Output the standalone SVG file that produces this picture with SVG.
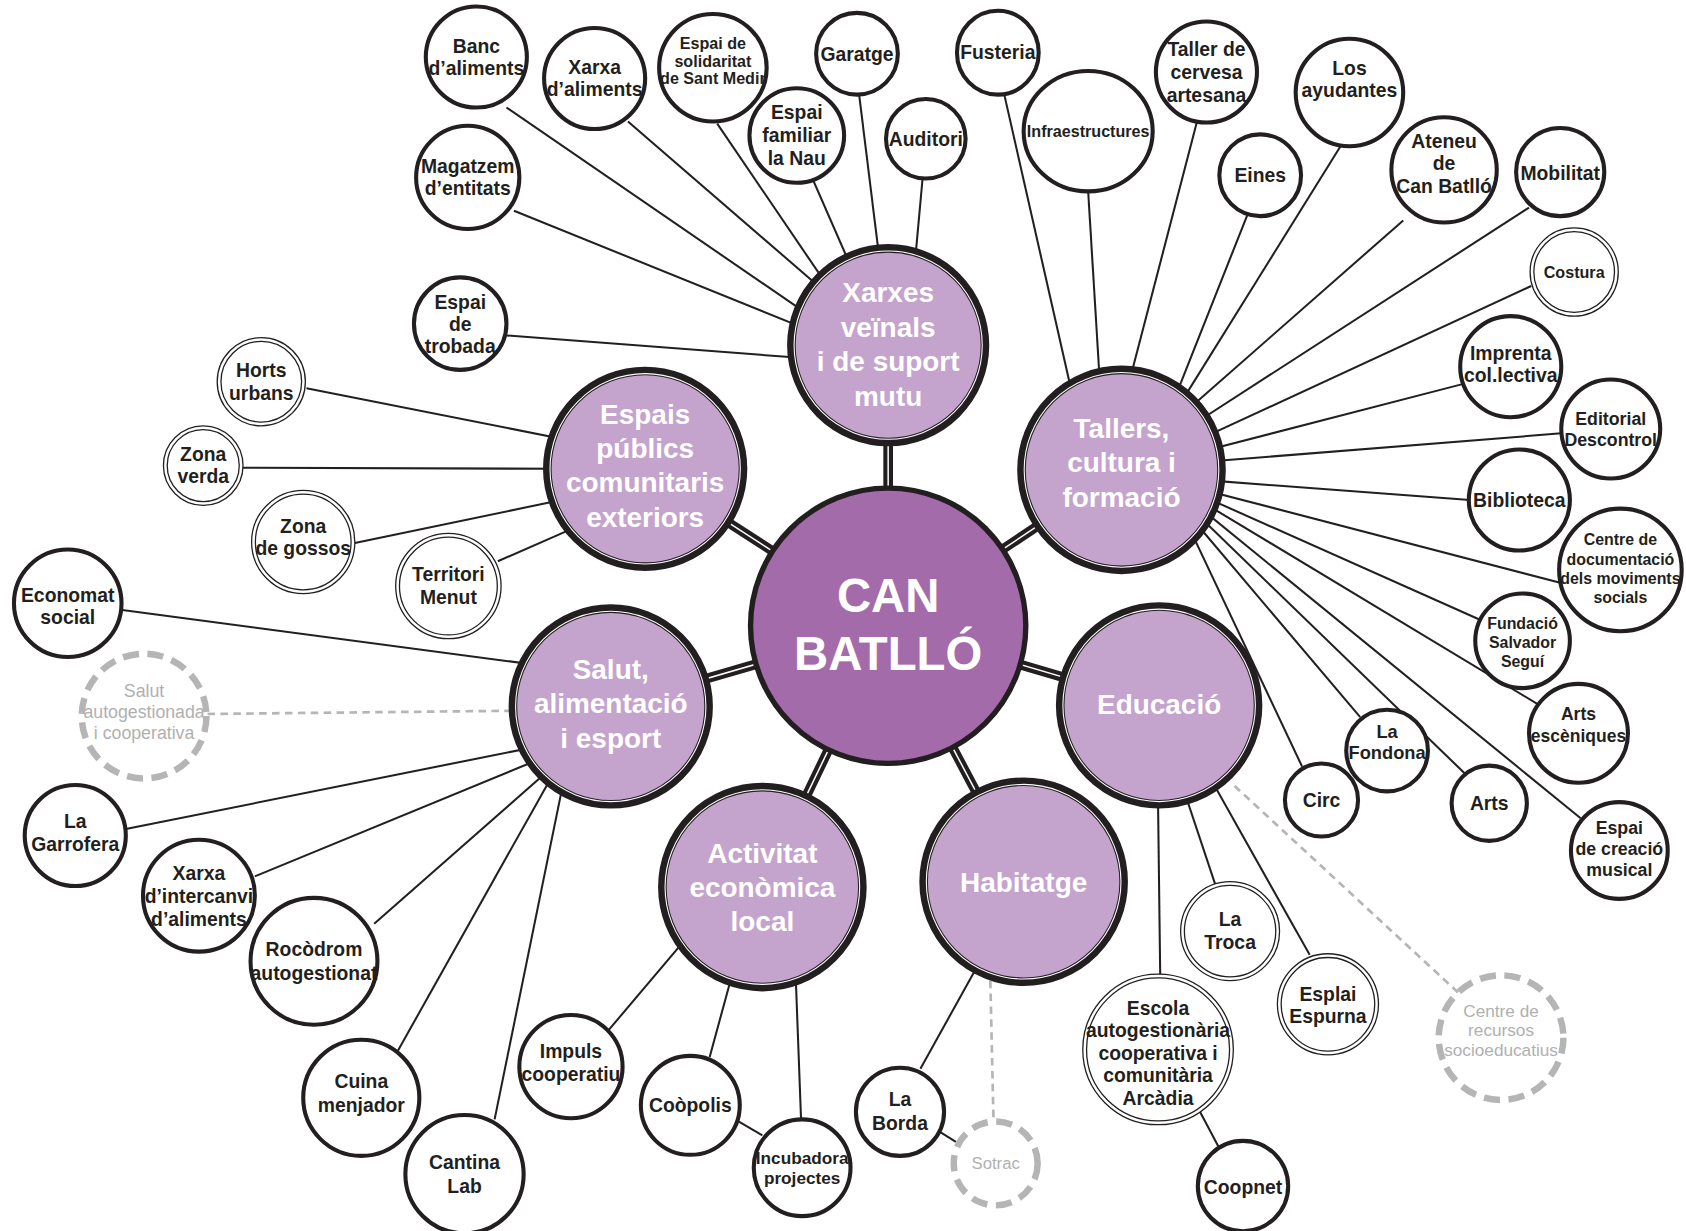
<svg xmlns="http://www.w3.org/2000/svg" width="1686" height="1231" viewBox="0 0 1686 1231">
<style>
.ln{stroke:#231f20;stroke-width:1.9;fill:none;stroke-linecap:butt}
.dln{stroke:#b5b5b5;stroke-width:2.5;stroke-dasharray:7 5;fill:none}
.hub{stroke:#231f20;stroke-width:9}
.hubw{stroke:#fff;stroke-width:1.4}
.leaf{fill:#fff;stroke:#231f20;stroke-width:3.8}
.dbl{fill:#fff;stroke:#231f20;stroke-width:1.2}
.dash{fill:#fff;stroke:#b5b5b5;stroke-width:6;stroke-dasharray:15 8}
.cat{fill:#c4a4cd;stroke:#231f20;stroke-width:8}
.catin{fill:none;stroke:#fff;stroke-width:1}
.core{fill:#a46bab;stroke:#231f20;stroke-width:5}
text{font-family:"Liberation Sans",Arial,Helvetica,sans-serif;font-weight:bold;text-anchor:middle}
.t{font-size:18px;fill:#231f20}
.c{font-size:26px;fill:#fff}
.g{font-weight:normal;fill:#b0b0b0}
.core-t{font-size:44px;fill:#fff}
</style>
<rect width="1686" height="1231" fill="#fff"/>
<g transform="scale(1.07526)">
<g id="connectors">
<!-- Xarxes veïnals -->
<line class="ln" x1="471" y1="100" x2="748" y2="290"/>
<line class="ln" x1="478" y1="196" x2="745" y2="304"/>
<line class="ln" x1="584" y1="113" x2="768" y2="272"/>
<line class="ln" x1="667" y1="115" x2="769" y2="265"/>
<line class="ln" x1="756" y1="167" x2="791" y2="247"/>
<line class="ln" x1="799" y1="88" x2="818" y2="242"/>
<line class="ln" x1="858" y1="166" x2="851" y2="243"/>
<line class="ln" x1="471" y1="312" x2="747" y2="333"/>
<!-- Espais públics -->
<line class="ln" x1="285" y1="361" x2="522" y2="408"/>
<line class="ln" x1="226" y1="435" x2="520" y2="436"/>
<line class="ln" x1="330" y1="505" x2="522" y2="465"/>
<line class="ln" x1="463" y1="522" x2="527" y2="494"/>
<!-- Salut -->
<line class="ln" x1="112" y1="567" x2="496" y2="618"/>
<line class="dln" x1="193" y1="664" x2="478" y2="661"/>
<line class="ln" x1="117" y1="771" x2="491" y2="696"/>
<line class="ln" x1="237" y1="815" x2="497" y2="708"/>
<line class="ln" x1="348" y1="859" x2="504" y2="722"/>
<line class="ln" x1="369" y1="979" x2="511" y2="726"/>
<line class="ln" x1="460" y1="1041" x2="523" y2="732"/>
<!-- Activitat -->
<line class="ln" x1="566" y1="958" x2="638" y2="873"/>
<line class="ln" x1="660" y1="983" x2="681" y2="906"/>
<line class="ln" x1="745" y1="1041" x2="740" y2="908"/>
<line class="ln" x1="682" y1="1040" x2="709" y2="1056"/>
<!-- Habitatge -->
<line class="ln" x1="856" y1="994" x2="912" y2="893"/>
<line class="dln" x1="921" y1="912" x2="924" y2="1043"/>
<line class="ln" x1="870" y1="1050" x2="889" y2="1062"/>
<!-- Educació -->
<line class="ln" x1="1079" y1="906" x2="1077" y2="748"/>
<line class="ln" x1="1115" y1="1032" x2="1133" y2="1066"/>
<line class="ln" x1="1130" y1="822" x2="1102" y2="738"/>
<line class="ln" x1="1218" y1="888" x2="1128" y2="728"/>
<line class="dln" x1="1356" y1="923" x2="1145" y2="728"/>
<!-- Tallers -->
<line class="ln" x1="934" y1="88" x2="997" y2="366"/>
<line class="ln" x1="1012" y1="178" x2="1023" y2="358"/>
<line class="ln" x1="1113" y1="114" x2="1050" y2="356"/>
<line class="ln" x1="1160" y1="200" x2="1093" y2="369"/>
<line class="ln" x1="1248" y1="134" x2="1101" y2="370"/>
<line class="ln" x1="1305" y1="205" x2="1107" y2="379"/>
<line class="ln" x1="1422" y1="193" x2="1114" y2="392"/>
<line class="ln" x1="1424" y1="266" x2="1119" y2="407"/>
<line class="ln" x1="1361" y1="357" x2="1125" y2="418"/>
<line class="ln" x1="1452" y1="403" x2="1127" y2="429"/>
<line class="ln" x1="1367" y1="465" x2="1127" y2="447"/>
<line class="ln" x1="1451" y1="542" x2="1125" y2="457"/>
<line class="ln" x1="1380" y1="578" x2="1122" y2="463"/>
<line class="ln" x1="1432" y1="656" x2="1120" y2="468"/>
<line class="ln" x1="1470" y1="761" x2="1117" y2="473"/>
<line class="ln" x1="1363" y1="720" x2="1114" y2="479"/>
<line class="ln" x1="1265" y1="667" x2="1111" y2="485"/>
<line class="ln" x1="1211" y1="713" x2="1107" y2="493"/>
<!-- hub connectors -->
<g class="hub">
<line x1="826" y1="582" x2="826" y2="321"/>
<line x1="826" y1="582" x2="600" y2="436"/>
<line x1="826" y1="582" x2="1043" y2="437"/>
<line x1="826" y1="582" x2="568" y2="657"/>
<line x1="826" y1="582" x2="1078" y2="656"/>
<line x1="826" y1="582" x2="709" y2="825"/>
<line x1="826" y1="582" x2="952" y2="820"/>
</g>
<g class="hubw">
<line x1="826" y1="582" x2="826" y2="321"/>
<line x1="826" y1="582" x2="600" y2="436"/>
<line x1="826" y1="582" x2="1043" y2="437"/>
<line x1="826" y1="582" x2="568" y2="657"/>
<line x1="826" y1="582" x2="1078" y2="656"/>
<line x1="826" y1="582" x2="709" y2="825"/>
<line x1="826" y1="582" x2="952" y2="820"/>
</g>
</g>

<!-- categories -->
<g id="cat-xarxes"><circle class="cat" cx="826" cy="321" r="90"/><circle class="catin" cx="826" cy="321" r="87.5"/>
<text class="c" x="826" y="281.3">Xarxes<tspan x="826" dy="32">veïnals</tspan><tspan x="826" dy="32">i de suport</tspan><tspan x="826" dy="32">mutu</tspan></text></g>
<g id="cat-espais"><circle class="cat" cx="600" cy="436" r="91"/><circle class="catin" cx="600" cy="436" r="88.5"/>
<text class="c" x="600" y="394.3">Espais<tspan x="600" dy="31.8">públics</tspan><tspan x="600" dy="31.8">comunitaris</tspan><tspan x="600" dy="31.8">exteriors</tspan></text></g>
<g id="cat-tallers"><circle class="cat" cx="1043" cy="437" r="93"/><circle class="catin" cx="1043" cy="437" r="90.5"/>
<text class="c" x="1043" y="407.3">Tallers,<tspan x="1043" dy="32">cultura i</tspan><tspan x="1043" dy="32">formació</tspan></text></g>
<g id="cat-salut"><circle class="cat" cx="568" cy="657" r="91"/><circle class="catin" cx="568" cy="657" r="88.5"/>
<text class="c" x="568" y="631.3">Salut,<tspan x="568" dy="32">alimentació</tspan><tspan x="568" dy="32">i esport</tspan></text></g>
<g id="cat-educacio"><circle class="cat" cx="1078" cy="656" r="92"/><circle class="catin" cx="1078" cy="656" r="89.5"/>
<text class="c" x="1078" y="664.3">Educació</text></g>
<g id="cat-activitat"><circle class="cat" cx="709" cy="825" r="93"/><circle class="catin" cx="709" cy="825" r="90.5"/>
<text class="c" x="709" y="802.3">Activitat<tspan x="709" dy="32">econòmica</tspan><tspan x="709" dy="32">local</tspan></text></g>
<g id="cat-habitatge"><circle class="cat" cx="952" cy="820" r="93"/><circle class="catin" cx="952" cy="820" r="90.5"/>
<text class="c" x="952" y="829.3">Habitatge</text></g>
<g id="core"><circle class="core" cx="826" cy="582" r="128"/>
<text class="core-t" x="826" y="569">CAN<tspan x="826" dy="54">BATLLÓ</tspan></text></g>

<!-- leaves: Xarxes -->
<g id="n-banc"><circle class="leaf" cx="443" cy="53" r="47"/><text class="t" x="443" y="49.5">Banc<tspan x="443" dy="20">d’aliments</tspan></text></g>
<g id="n-xarxa-aliments"><circle class="leaf" cx="553" cy="73" r="47"/><text class="t" x="553" y="68.5">Xarxa<tspan x="553" dy="21">d’aliments</tspan></text></g>
<g id="n-solidaritat"><circle class="leaf" cx="663" cy="63" r="50"/><text class="t" style="font-size:15px" x="663" y="45.4">Espai de<tspan x="663" dy="16.5">solidaritat</tspan><tspan x="663" dy="16.5">de Sant Medir</tspan></text></g>
<g id="n-garatge"><circle class="leaf" cx="797" cy="50" r="38"/><text class="t" x="797" y="56.5">Garatge</text></g>
<g id="n-familiar"><circle class="leaf" cx="741" cy="126" r="44"/><text class="t" x="741" y="110.5">Espai<tspan x="741" dy="21.5">familiar</tspan><tspan x="741" dy="21.5">la Nau</tspan></text></g>
<g id="n-auditori"><circle class="leaf" cx="861" cy="129" r="37"/><text class="t" x="861" y="135.5">Auditori</text></g>
<g id="n-magatzem"><circle class="leaf" cx="435" cy="165" r="48"/><text class="t" x="435" y="160.5">Magatzem<tspan x="435" dy="21">d’entitats</tspan></text></g>
<g id="n-trobada"><circle class="leaf" cx="428" cy="301" r="43"/><text class="t" x="428" y="287.5">Espai<tspan x="428" dy="20.5">de</tspan><tspan x="428" dy="20.5">trobada</tspan></text></g>

<!-- leaves: Espais -->
<g id="n-horts"><circle class="dbl" cx="243" cy="355" r="41"/><circle class="dbl" cx="243" cy="355" r="37.5"/><text class="t" x="243" y="350.5">Horts<tspan x="243" dy="21.5">urbans</tspan></text></g>
<g id="n-zona-verda"><circle class="dbl" cx="189" cy="433" r="37"/><circle class="dbl" cx="189" cy="433" r="33.5"/><text class="t" x="189" y="428.5">Zona<tspan x="189" dy="21">verda</tspan></text></g>
<g id="n-gossos"><circle class="dbl" cx="282" cy="504" r="48"/><circle class="dbl" cx="282" cy="504" r="44.5"/><text class="t" x="282" y="495.5">Zona<tspan x="282" dy="21">de gossos</tspan></text></g>
<g id="n-territori"><circle class="dbl" cx="417" cy="545" r="49"/><circle class="dbl" cx="417" cy="545" r="45.5"/><text class="t" x="417" y="540.5">Territori<tspan x="417" dy="21.5">Menut</tspan></text></g>

<!-- leaves: Salut -->
<g id="n-economat"><circle class="leaf" cx="63" cy="561" r="50"/><text class="t" x="63" y="559.5">Economat<tspan x="63" dy="21">social</tspan></text></g>
<g id="n-salut-autog"><circle class="dash" cx="134" cy="666" r="58"/><text class="t g" style="font-size:16.5px" x="134" y="648">Salut<tspan x="134" dy="19.5">autogestionada</tspan><tspan x="134" dy="19.5">i cooperativa</tspan></text></g>
<g id="n-garrofera"><circle class="leaf" cx="70" cy="777" r="47"/><text class="t" x="70" y="770.5">La<tspan x="70" dy="21">Garrofera</tspan></text></g>
<g id="n-intercanvi"><circle class="leaf" cx="185" cy="833" r="52"/><text class="t" x="185" y="818.5">Xarxa<tspan x="185" dy="21.5">d’intercanvi</tspan><tspan x="185" dy="21.5">d’aliments</tspan></text></g>
<g id="n-rocodrom"><circle class="leaf" cx="292" cy="894" r="59"/><text class="t" x="292" y="889.5">Rocòdrom<tspan x="292" dy="22">autogestionat</tspan></text></g>
<g id="n-cuina"><circle class="leaf" cx="336" cy="1021" r="54"/><text class="t" x="336" y="1011.5">Cuina<tspan x="336" dy="23">menjador</tspan></text></g>
<g id="n-cantina"><circle class="leaf" cx="432" cy="1092" r="55"/><text class="t" x="432" y="1087.5">Cantina<tspan x="432" dy="22">Lab</tspan></text></g>

<!-- leaves: Activitat -->
<g id="n-impuls"><circle class="leaf" cx="531" cy="992" r="48"/><text class="t" x="531" y="984">Impuls<tspan x="531" dy="21">cooperatiu</tspan></text></g>
<g id="n-coopolis"><circle class="leaf" cx="642" cy="1028" r="46"/><text class="t" x="642" y="1034.5">Coòpolis</text></g>
<g id="n-incubadora"><circle class="leaf" cx="746" cy="1086" r="45"/><text class="t" style="font-size:16px" x="746" y="1082.8">Incubadora<tspan x="746" dy="18.5">projectes</tspan></text></g>

<!-- leaves: Habitatge -->
<g id="n-borda"><circle class="leaf" cx="837" cy="1034" r="41"/><text class="t" x="837" y="1028.5">La<tspan x="837" dy="22">Borda</tspan></text></g>
<g id="n-sotrac"><circle class="dash" cx="926" cy="1082" r="39"/><text class="t g" style="font-size:15.5px" x="926" y="1087.5">Sotrac</text></g>

<!-- leaves: Educació -->
<g id="n-escola"><circle class="dbl" cx="1077" cy="976" r="70"/><circle class="dbl" cx="1077" cy="976" r="66.5"/><text class="t" x="1077" y="943.5">Escola<tspan x="1077" dy="21">autogestionària</tspan><tspan x="1077" dy="21">cooperativa i</tspan><tspan x="1077" dy="21">comunitària</tspan><tspan x="1077" dy="21">Arcàdia</tspan></text></g>
<g id="n-coopnet"><circle class="leaf" cx="1156" cy="1103" r="42"/><text class="t" x="1156" y="1110.5">Coopnet</text></g>
<g id="n-troca"><circle class="dbl" cx="1144" cy="866" r="46"/><circle class="dbl" cx="1144" cy="866" r="42.5"/><text class="t" x="1144" y="861.5">La<tspan x="1144" dy="21">Troca</tspan></text></g>
<g id="n-esplai"><circle class="dbl" cx="1235" cy="934" r="47"/><circle class="dbl" cx="1235" cy="934" r="43.5"/><text class="t" x="1235" y="930.5">Esplai<tspan x="1235" dy="21">Espurna</tspan></text></g>
<g id="n-recursos"><circle class="dash" cx="1396" cy="965" r="58"/><text class="t g" style="font-size:16px" x="1396" y="945.8">Centre de<tspan x="1396" dy="18">recursos</tspan><tspan x="1396" dy="18">socioeducatius</tspan></text></g>

<!-- leaves: Tallers -->
<g id="n-fusteria"><ellipse class="leaf" cx="928" cy="49" rx="38" ry="39"/><text class="t" x="928" y="54.5">Fusteria</text></g>
<g id="n-infra"><ellipse class="leaf" cx="1012" cy="122" rx="60" ry="56"/><text class="t" style="font-size:15px" x="1012" y="127.4">Infraestructures</text></g>
<g id="n-cervesa"><circle class="leaf" cx="1122" cy="67" r="47"/><text class="t" x="1122" y="52.5">Taller de<tspan x="1122" dy="21">cervesa</tspan><tspan x="1122" dy="21">artesana</tspan></text></g>
<g id="n-eines"><circle class="leaf" cx="1172" cy="163" r="38"/><text class="t" x="1172" y="169.5">Eines</text></g>
<g id="n-ayudantes"><circle class="leaf" cx="1255" cy="86" r="50"/><text class="t" x="1255" y="69.5">Los<tspan x="1255" dy="21">ayudantes</tspan></text></g>
<g id="n-ateneu"><circle class="leaf" cx="1343" cy="158" r="49"/><text class="t" x="1343" y="137.5">Ateneu<tspan x="1343" dy="21">de</tspan><tspan x="1343" dy="21">Can Batlló</tspan></text></g>
<g id="n-mobilitat"><circle class="leaf" cx="1451" cy="160" r="41"/><text class="t" x="1451" y="167">Mobilitat</text></g>
<g id="n-costura"><circle class="dbl" cx="1464" cy="253" r="41"/><circle class="dbl" cx="1464" cy="253" r="37.5"/><text class="t" style="font-size:15px" x="1464" y="258.4">Costura</text></g>
<g id="n-imprenta"><circle class="leaf" cx="1405" cy="341" r="47"/><text class="t" x="1405" y="334.5">Imprenta<tspan x="1405" dy="21">col.lectiva</tspan></text></g>
<g id="n-editorial"><circle class="leaf" cx="1498" cy="399" r="46"/><text class="t" style="font-size:16.5px" x="1498" y="395">Editorial<tspan x="1498" dy="20">Descontrol</tspan></text></g>
<g id="n-biblioteca"><circle class="leaf" cx="1413" cy="465" r="47"/><text class="t" x="1413" y="471.5">Biblioteca</text></g>
<g id="n-centre-doc"><circle class="leaf" cx="1507" cy="530" r="57"/><text class="t" style="font-size:14.8px" x="1507" y="507.3">Centre de<tspan x="1507" dy="17.7">documentació</tspan><tspan x="1507" dy="17.7">dels moviments</tspan><tspan x="1507" dy="17.7">socials</tspan></text></g>
<g id="n-fundacio"><circle class="leaf" cx="1416" cy="596" r="44"/><text class="t" style="font-size:14.8px" x="1416" y="585.3">Fundació<tspan x="1416" dy="17.5">Salvador</tspan><tspan x="1416" dy="17.5">Seguí</tspan></text></g>
<g id="n-arts-esceniques"><circle class="leaf" cx="1468" cy="682" r="46"/><text class="t" style="font-size:16.3px" x="1468" y="669.9">Arts<tspan x="1468" dy="20">escèniques</tspan></text></g>
<g id="n-creacio-musical"><circle class="leaf" cx="1506" cy="791" r="45"/><text class="t" style="font-size:16.5px" x="1506" y="776">Espai<tspan x="1506" dy="19.5">de creació</tspan><tspan x="1506" dy="19.5">musical</tspan></text></g>
<g id="n-arts"><circle class="leaf" cx="1385" cy="747" r="35"/><text class="t" x="1385" y="753.5">Arts</text></g>
<g id="n-fondona"><circle class="leaf" cx="1290" cy="698" r="38"/><text class="t" style="font-size:17px" x="1290" y="686">La<tspan x="1290" dy="19.5">Fondona</tspan></text></g>
<g id="n-circ"><circle class="leaf" cx="1229" cy="744" r="34"/><text class="t" x="1229" y="750.5">Circ</text></g>
</g>
</svg>
